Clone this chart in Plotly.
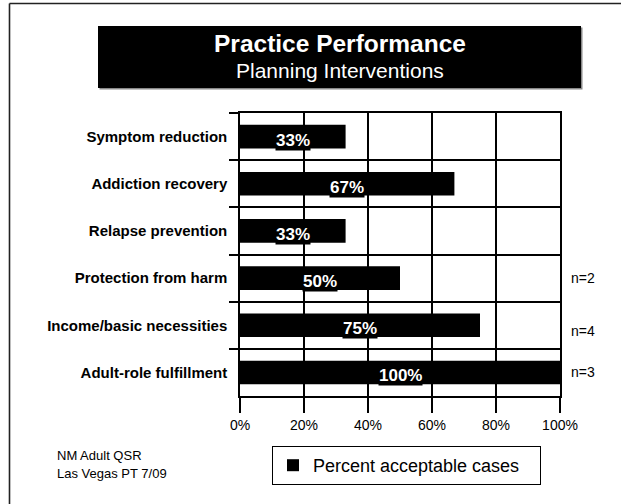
import plotly.graph_objects as go

# ---- data ----
categories = ["Symptom reduction", "Addiction recovery", "Relapse prevention",
              "Protection from harm", "Income/basic necessities", "Adult-role fulfillment"]
percent_acceptable = [33, 67, 33, 50, 75, 100]
bar_labels = ["33%", "67%", "33%", "50%", "75%", "100%"]
n_labels = ["", "", "", "n=2", "n=4", "n=3"]
x_ticks = [0, 20, 40, 60, 80, 100]
x_tick_labels = ["0%", "20%", "40%", "60%", "80%", "100%"]
series_name = "Percent acceptable cases"
title_main = "Practice Performance"
title_sub = "Planning Interventions"
footnotes = ["NM Adult QSR", "Las Vegas PT 7/09"]

# ---- layout geometry (pixels) ----
W, H = 621, 504
PL, PR, PT, PB = 240, 560, 113, 396
FONT = "Arial, Liberation Sans, sans-serif"


def px(x):
    return (x - PL) / (PR - PL)


def py(y):
    return (PB - y) / (PB - PT)


fig = go.Figure()
fig.add_trace(go.Bar(
    x=percent_acceptable, y=categories, orientation="h",
    marker=dict(color="black", line=dict(width=0)),
    name=series_name, showlegend=True, hoverinfo="skip",
))

annotations = []
# bar value labels (white bold on black box)
for cat, val, lab in zip(categories, percent_acceptable, bar_labels):
    annotations.append(dict(
        x=val / 2, y=cat, xref="x", yref="y", text=lab, showarrow=False,
        xanchor="center", yanchor="middle",
        font=dict(family=FONT, size=17, color="white", weight="bold"),
        bgcolor="black", borderpad=0, yshift=-3.5,
    ))
# n= labels at the right
n_shift = {"n=4": -6}
for cat, nl in zip(categories, n_labels):
    if nl:
        annotations.append(dict(
            x=1, y=cat, xref="paper", yref="y", text=nl, showarrow=False,
            xanchor="left", yanchor="middle", xshift=9, yshift=n_shift.get(nl, 0),
            font=dict(family=FONT, size=14, color="black"),
        ))
# title
annotations.append(dict(x=px(339.5), y=py(43), xref="paper", yref="paper",
                        text="<b>" + title_main + "</b>", showarrow=False,
                        xanchor="center", yanchor="middle",
                        font=dict(family=FONT, size=24.5, color="white")))
annotations.append(dict(x=px(339.5), y=py(70), xref="paper", yref="paper",
                        text=title_sub, showarrow=False,
                        xanchor="center", yanchor="middle",
                        font=dict(family=FONT, size=21, color="white")))
# footnotes
for txt, yy in zip(footnotes, [455, 473]):
    annotations.append(dict(x=px(55), y=py(yy), xref="paper", yref="paper",
                            text=txt, showarrow=False, xanchor="left",
                            yanchor="middle",
                            font=dict(family=FONT, size=13, color="black")))

shapes = [
    # title box shadow + box
    dict(type="rect", xref="paper", yref="paper", layer="below",
         x0=px(99.5), x1=px(582.5), y0=py(27.5), y1=py(89.5),
         fillcolor="#888888", line=dict(width=0)),
    dict(type="rect", xref="paper", yref="paper", layer="below",
         x0=px(98), x1=px(581), y0=py(26), y1=py(88),
         fillcolor="black", line=dict(width=0)),
    # page frame (top and left)
    dict(type="line", xref="paper", yref="paper",
         x0=px(9.5), x1=px(625), y0=py(3.5), y1=py(3.5),
         line=dict(color="#222222", width=1.6)),
    dict(type="line", xref="paper", yref="paper",
         x0=px(9.5), x1=px(9.5), y0=py(3.5), y1=py(510),
         line=dict(color="#222222", width=1.6)),
]

fig.update_layout(
    width=W, height=H,
    margin=dict(l=PL, r=W - PR, t=PT, b=H - PB, pad=0),
    paper_bgcolor="white", plot_bgcolor="white",
    bargap=0.5,
    font=dict(family=FONT, color="black"),
    showlegend=True,
    legend=dict(
        orientation="h", entrywidth=222, entrywidthmode="pixels",
        x=px(272), y=py(446), xanchor="left", yanchor="top",
        bordercolor="black", borderwidth=1, bgcolor="white",
        font=dict(family=FONT, size=18, color="black"),
        itemsizing="constant",
    ),
    annotations=annotations,
    shapes=shapes,
    xaxis=dict(
        range=[0, 100], tickvals=x_ticks, ticktext=x_tick_labels,
        showgrid=True, gridcolor="black", gridwidth=1.5,
        zeroline=False, showline=True, linecolor="black", linewidth=1.5,
        mirror=True, ticks="outside", ticklen=15, tickwidth=1.5,
        tickcolor="black", tickfont=dict(family=FONT, size=14, color="black"),
        fixedrange=True,
    ),
    yaxis=dict(
        autorange="reversed", type="category", tickson="boundaries",
        showgrid=True, gridcolor="black", gridwidth=1.5,
        showline=True, linecolor="black", linewidth=1.5, mirror=True,
        ticks="outside", ticklen=9, tickwidth=1.5, tickcolor="black",
        ticklabelstandoff=8,
        tickfont=dict(family=FONT, size=15, color="black", weight="bold"),
        fixedrange=True,
    ),
)

fig.write_html("out.html", config={"displayModeBar": False})
